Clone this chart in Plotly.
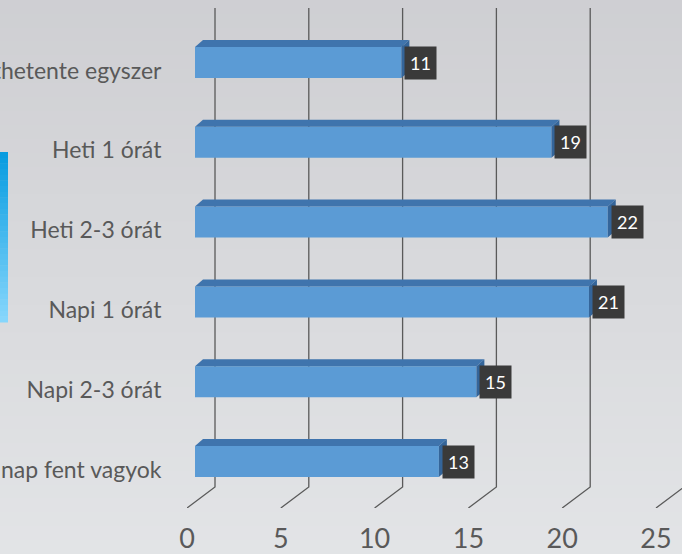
import plotly.graph_objects as go

# ---- data (bottom to top) ----
categories = ["Egész nap fent vagyok", "Napi 2-3 órát", "Napi 1 órát",
              "Heti 2-3 órát", "Heti 1 órát", "Kéthetente egyszer"]
values = [13, 15, 21, 22, 19, 11]
x_ticks = [0, 5, 10, 15, 20, 25]

# ---- geometry helpers (pixels -> data units) ----
W, H = 682, 554
ML, MB, MT, MR = 187, 46, 0, 0
PW, PH = W - ML - MR, H - MB - MT
PXX = 18.76            # px per x unit
PXY = 79.8             # px per category step
XR = [0, PW / PXX]
YR = [-46.5 / PXY, -46.5 / PXY + PH / PXY]

def dx(px):
    return px / PXX

def dy(px):
    return px / PXY

FONT = "Lato"
base = dx(8)           # bars sit a bit into depth
bw = dy(31)            # bar thickness
tdx, tdy = dx(8), dy(7)

fig = go.Figure()

# front faces
fig.add_trace(go.Bar(
    x=values, y=list(range(len(categories))), base=base, orientation="h",
    width=bw, marker=dict(color="#5b9bd5", line=dict(width=0)),
    hoverinfo="skip", showlegend=False))

shapes = []

# background gradient
nb = 40
top_c = (207, 207, 211)
bot_c = (226, 228, 230)
for i in range(nb):
    t = i / (nb - 1)
    c = tuple(int(round(top_c[k] + (bot_c[k] - top_c[k]) * t)) for k in range(3))
    y1 = 1 - (i * H / nb - MT) / PH
    y0 = 1 - ((i + 1) * H / nb - MT) / PH
    shapes.append(dict(type="rect", xref="paper", yref="paper",
                       x0=-ML / PW, x1=1 + MR / PW, y0=y0 - 0.002, y1=y1,
                       fillcolor="rgb(%d,%d,%d)" % c, line=dict(width=0), layer="below"))

# blue stripe at left
ns = 30
s_top, s_bot = 152, 322
c1 = (8, 156, 224)
c2 = (134, 214, 252)
for i in range(ns):
    t = i / (ns - 1)
    c = tuple(int(round(c1[k] + (c2[k] - c1[k]) * t)) for k in range(3))
    p0 = s_top + i * (s_bot - s_top) / ns
    p1 = s_top + (i + 1) * (s_bot - s_top) / ns
    shapes.append(dict(type="rect", xref="paper", yref="paper",
                       x0=-ML / PW, x1=-(ML - 8) / PW,
                       y0=1 - (p1 + 0.5) / PH, y1=1 - p0 / PH,
                       fillcolor="rgb(%d,%d,%d)" % c, line=dict(width=0), layer="below"))

# gridlines (3D back wall + floor diagonals)
ybot = YR[0]
ytop = YR[1] - dy(8)
for t in x_ticks:
    xb = t + dx(28)
    yb = ybot + dy(21)
    shapes.append(dict(type="path", xref="x", yref="y",
                       path="M %f,%f L %f,%f L %f,%f" % (t, ybot, xb, yb, xb, ytop),
                       line=dict(color="#5a5a5a", width=1.3), layer="below"))

# top and side faces
for i, v in enumerate(values):
    yt = i + bw / 2
    yb_ = i - bw / 2
    x0 = base
    x1 = base + v
    shapes.append(dict(type="path", xref="x", yref="y",
                       path="M %f,%f L %f,%f L %f,%f L %f,%f Z" % (
                           x0, yt, x0 + tdx, yt + tdy, x1 + tdx, yt + tdy, x1, yt),
                       fillcolor="#3f74ad", line=dict(width=0), layer="above"))
    shapes.append(dict(type="path", xref="x", yref="y",
                       path="M %f,%f L %f,%f L %f,%f L %f,%f Z" % (
                           x1, yb_, x1, yt, x1 + tdx, yt + tdy, x1 + tdx, yb_ + tdy),
                       fillcolor="#34659a", line=dict(width=0), layer="above"))

annotations = []
for i, v in enumerate(values):
    annotations.append(dict(x=base + v, y=i, xref="x", yref="y", text=str(v),
                            showarrow=False, xanchor="left", yanchor="middle", xshift=3,
                            bgcolor="#3a3a3a", borderpad=5,
                            font=dict(family=FONT, size=18, color="white")))

fig.update_layout(
    width=W, height=H,
    margin=dict(l=ML, r=MR, t=MT, b=MB, autoexpand=False),
    paper_bgcolor="#d8d9dc", plot_bgcolor="rgba(0,0,0,0)",
    shapes=shapes, annotations=annotations, showlegend=False,
    xaxis=dict(range=XR, tickvals=x_ticks, showgrid=False, zeroline=False,
               showline=False, ticks="outside", ticklen=7, tickcolor="rgba(0,0,0,0)",
               tickfont=dict(family=FONT, size=27, color="#595959"), fixedrange=True),
    yaxis=dict(range=YR, tickvals=list(range(len(categories))), ticktext=categories,
               showgrid=False, zeroline=False, showline=False, ticks="outside",
               ticklen=20, tickcolor="rgba(0,0,0,0)", automargin=False,
               ticklabelshift=8,
               tickfont=dict(family=FONT, size=23, color="#595959"), fixedrange=True),
)

fig.write_html("out.html", config={"displayModeBar": False},
               post_script="document.body.style.margin='0';document.body.style.overflow='hidden';")
